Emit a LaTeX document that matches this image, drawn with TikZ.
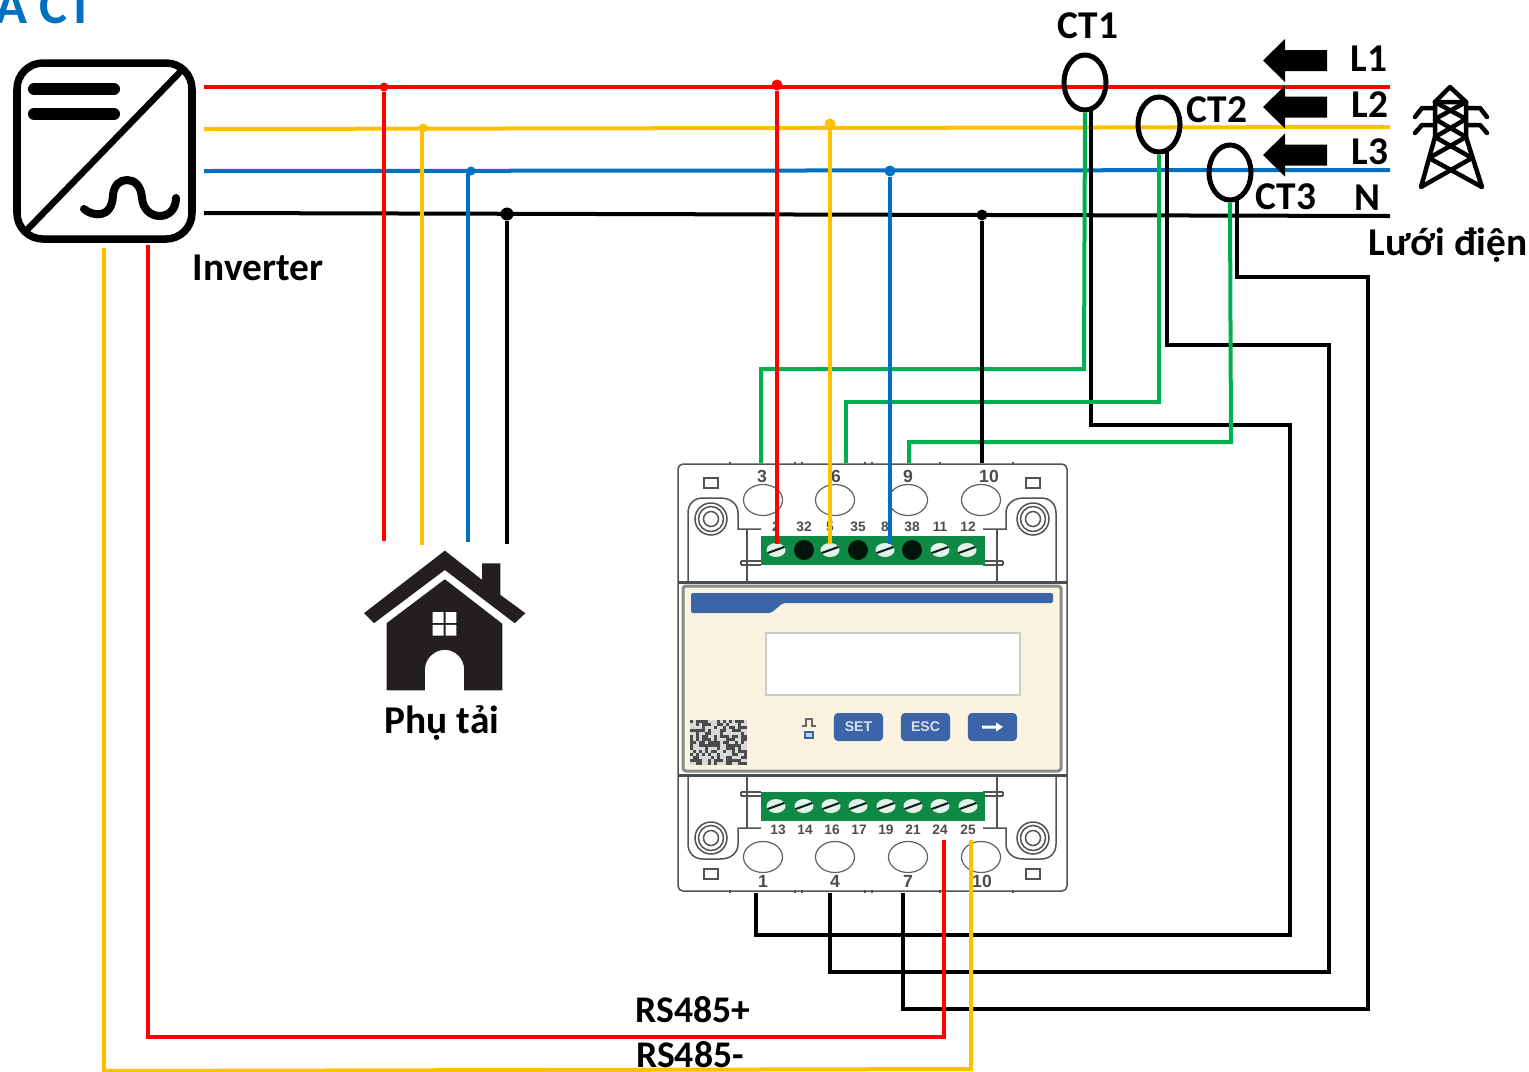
\documentclass[tikz,border=0pt]{standalone}
\usepackage{fontspec}
\setmainfont{Carlito}
\newfontfamily\meterfont{Liberation Sans}
\usetikzlibrary{shapes.geometric}
\definecolor{phR}{HTML}{FF0000}
\definecolor{phY}{HTML}{FFC000}
\definecolor{phB}{HTML}{0070C0}
\definecolor{ctG}{HTML}{00B050}
\definecolor{termG}{HTML}{0F8A45}
\definecolor{btnB}{HTML}{3B65A8}
\definecolor{panelC}{HTML}{FBF3E0}
\definecolor{frameG}{HTML}{8A8A8A}
\definecolor{houseK}{HTML}{231F20}
\tikzset{
  label/.style={font=\bfseries\fontsize{11.2}{12}\selectfont,inner sep=0pt},
  rslabel/.style={font=\bfseries\fontsize{10.7}{12}\selectfont,inner sep=0pt},
  wire/.style={line width=.04cm,line join=miter},
  ctring/.style={draw,ellipse,line width=.05cm,minimum width=.42cm,minimum height=.55cm,inner sep=0pt},
  dot/.style={circle,inner sep=0pt,minimum size=.09cm},
  hole/.style={draw=frameG!70!black,line width=.012cm,ellipse,fill=white,minimum width=.39cm,minimum height=.31cm,inner sep=0pt},
  bignum/.style={font=\meterfont\bfseries\fontsize{5}{5}\selectfont,text=black!70,inner sep=0pt},
  tinynum/.style={font=\meterfont\bfseries\fontsize{3.9}{4}\selectfont,text=black!70,inner sep=0pt},
  btn/.style={fill=btnB,rounded corners=.04cm,minimum width=.49cm,minimum height=.28cm,inner sep=0pt,text=white!80!btnB,font=\meterfont\bfseries\fontsize{4}{4}\selectfont},
  thin frame/.style={draw=frameG!60!black,line width=.015cm},
  tower/.style={line width=.045cm,line cap=round,line join=round}
}
% one half of the meter body, top half as drawn
\newcommand{\meterhalf}{%
  \foreach \sx/\dx in {1/0,-1/1744}{
    \begin{scope}[shift={(\dx,0)},xscale=\sx]
      \draw[thin frame] (711-7,478) rectangle (711+7,488);
      \draw[thin frame] (711,519) circle (16);
      \draw[thin frame] (711,519) circle (12.5);
      \draw[thin frame] (711,519) circle (7.5);
      \draw[thin frame] (688,582) -- (688,513) .. controls (688,503) and (695,498) .. (703,498) -- (720,498)
        .. controls (732,498) and (738,505) .. (738,513) -- (738,529) -- (761,529);
      \draw[thin frame] (747,529) -- (747,582);
      \draw[thin frame] (741,561) -- (761,561) (741,565) -- (761,565) (741,561) -- (741,565);
    \end{scope}
  }
  \fill[termG] (761,536) rectangle (985,565);
}
\newcommand{\screwmark}[2]{%
  \fill[white!88!termG] (#1,#2) ellipse (9.5 and 7);
  \draw[black!75!termG,line width=.02cm,rotate around={20:(#1,#2)}] (#1-9,#2) -- (#1+9,#2);
}
\begin{document}
\begin{tikzpicture}[x=.01cm,y=-.01cm]
\useasboundingbox (0,0) rectangle (1529,1072);

% meter
\draw[thin frame,fill=white,rounded corners=.05cm] (678,464) rectangle (1067,891);
\foreach \tx in {730,795,802,865,872,940,1013}{
  \draw[thin frame] (\tx,462) -- (\tx,465);
  \draw[thin frame] (\tx,890) -- (\tx,893);
}
\meterhalf
\begin{scope}[shift={(0,1357)},yscale=-1]
  \meterhalf
\end{scope}
\draw[black!70,line width=.03cm] (678,582) -- (1067,582) (678,775) -- (1067,775);
\draw[frameG,line width=.03cm,fill=panelC,rounded corners=.03cm] (683,586) rectangle (1061,771);
\fill[btnB,rounded corners=.02cm] (691,593) -- (1053,593) -- (1053,603) -- (783,603) -- (771,613) -- (691,613) -- cycle;
\draw[black!20,line width=.02cm,fill=white] (766,633) rectangle (1020,695);
\foreach \hx in {763,835,908,981}{
  \node[hole] at (\hx,500) {};
  \node[hole] at (\hx,857) {};
}
\node[bignum] (t3) at (762,476) {3};
\node[bignum] (t6) at (836,476) {6};
\node[bignum] (t9) at (908,476) {9};
\node[bignum] (t10) at (989,476) {10};
\node[bignum] (b1) at (763,881) {1};
\node[bignum] (b4) at (835,881) {4};
\node[bignum] (b7) at (908,881) {7};
\node[bignum] (b10) at (982,881) {10};
\foreach \tx/\tt in {776/2,804/32,830/5,858/35,885/8,912/38,940/11,968/12}{
  \node[tinynum] at (\tx,527) {\tt};
}
\foreach \tx/\tt in {778/13,805/14,832/16,859/17,886/19,913/21,940/24,968/25}{
  \node[tinynum] at (\tx,830) {\tt};
}
\foreach \tx in {776,830,885,940,967}{\screwmark{\tx}{550}}
\foreach \tx in {804,858,912}{\fill[black!85!termG] (\tx,550) circle (10);}
\foreach \tx in {776,804,831,858,886,913,940,968}{\screwmark{\tx}{806}}
\node[btn] (set) at (858.5,727) {SET};
\node[btn] (esc) at (925.5,727) {ESC};
\node[btn] (next) at (992.5,727) {};
\fill[white] (982,725.5) -- (996,725.5) -- (996,722.5) -- (1003,727) -- (996,731.5) -- (996,728.5) -- (982,728.5) -- cycle;
\draw[black!60,line width=.012cm] (802,726) -- (806,726) -- (806,719) -- (812,719) -- (812,726) -- (816,726);
\draw[btnB,line width=.02cm,fill=white!70!btnB] (805,732) rectangle (813,738);
% qr
\pgfmathsetseed{7}
\foreach \qi in {0,...,18}{
  \foreach \qj in {0,...,14}{
    \pgfmathparse{rnd}
    \ifdim \pgfmathresult pt>.45pt
      \fill[black!70] (690+\qi*3,720+\qj*3) rectangle ++(3,3);
    \else
      \fill[black!15] (690+\qi*3,720+\qj*3) rectangle ++(3,3);
    \fi
  }
}

% inverter
\draw[line width=.075cm,rounded corners=.26cm] (17,63) rectangle (192,239) ;
\draw[line width=.065cm] (182,70) -- (24,233);
\draw[line width=.12cm,line cap=round] (34,89) -- (114,89) (34,114) -- (114,114);
\draw[line width=.08cm,line cap=round] (84,209) .. controls (92,216) and (112,220) .. (113,195)
  .. controls (114,185) and (120,180) .. (127,180) .. controls (134,180) and (141,185) .. (142,198)
  .. controls (144,222) and (176,222) .. (176,198);
\node[label] (inv) at (258,268) {Inverter};

% house
\begin{scope}[shift={(350,530)},x=.00333cm,y=-.00333cm]
  \fill[houseK] (285,62) -- (397,150) -- (397,100) -- (452,100) -- (452,195) -- (527,250) -- (495,280) -- (285,120) -- (72,280) -- (42,250) -- cycle;
  \fill[houseK] (285,148) -- (458,282) -- (458,482) -- (343,482) -- (343,420)
    .. controls (343,385) and (315,360) .. (285,360) .. controls (255,360) and (225,385) .. (225,420)
    -- (225,482) -- (110,482) -- (110,280) -- cycle;
  \fill[white] (248,247) rectangle (281,279) (287,247) rectangle (320,279) (248,285) rectangle (281,317) (287,285) rectangle (320,317);
\end{scope}
\node[label] (load) at (442,723) {Phụ tải};

% tower
\draw[tower] (1435,102) -- (1450,87) -- (1466,102) -- (1435,102);
\draw[tower] (1435,102) -- (1435,137) -- (1421,187) -- (1472,158) -- (1435,137);
\draw[tower] (1466,102) -- (1466,137) -- (1482,187) -- (1429,158) -- (1466,137);
\draw[tower] (1435,102) -- (1466,119) -- (1435,137);
\draw[tower] (1466,102) -- (1435,119) -- (1466,137);
\draw[tower] (1415,117) -- (1422,108) -- (1435,108) (1466,108) -- (1480,108) -- (1487,117);
\draw[tower] (1415,133) -- (1422,125) -- (1435,125) (1466,125) -- (1480,125) -- (1487,133);
\node[label] (grid) at (1448,245) {Lưới điện};

% phase lines
\coordinate (r0) at (204,87);
\coordinate (r1) at (1390,87);
\coordinate (y0) at (204,129);
\coordinate (y1) at (1390,127);
\coordinate (b0) at (204,171);
\coordinate (b1) at (1390,170);
\coordinate (n0) at (204,213);
\coordinate (n1) at (1390,216);
\draw[wire,phR] (r0) -- (r1);
\draw[wire,phY] (y0) -- (y1);
\draw[wire,phB] (b0) -- (b1);
\draw[wire,black] (n0) -- (n1);

% load drops
\node[dot,fill=phR] (jr1) at (384,87) {};
\node[dot,fill=phY] (jy1) at (423,128) {};
\node[dot,fill=phB] (jb1) at (471,171) {};
\node[dot,fill=black,minimum size=.13cm] (jn1) at (507,214) {};
\coordinate (ly0) at (422,128);
\coordinate (lb0) at (468,171);
\coordinate (lr) at (384,541);
\coordinate (ly) at (422,545);
\coordinate (lb) at (468,542);
\coordinate (ln) at (507,544);
\draw[wire,phR] (jr1) -- (lr);
\draw[wire,phY] (ly0) -- (ly);
\draw[wire,phB] (lb0) -- (lb);
\draw[wire,black] (jn1) -- (ln);

% ct secondaries
\node[ctring] (ct1) at (1085,82.5) {};
\node[ctring] (ct2) at (1159,124.5) {};
\node[ctring] (ct3) at (1230,172.5) {};
\coordinate (k1a) at (1091,110);
\coordinate (k1b) at (1091,425);
\coordinate (k1c) at (1290,425);
\coordinate (k1d) at (1290,935);
\coordinate (k1e) at (756,935);
\coordinate (k1f) at (756,893);
\coordinate (k2a) at (1167,152);
\coordinate (k2b) at (1167,345);
\coordinate (k2c) at (1329,345);
\coordinate (k2d) at (1329,972);
\coordinate (k2e) at (830,972);
\coordinate (k2f) at (830,893);
\coordinate (k3a) at (1237,200);
\coordinate (k3b) at (1237,277);
\coordinate (k3c) at (1368,277);
\coordinate (k3d) at (1368,1009);
\coordinate (k3e) at (903,1009);
\coordinate (k3f) at (903,893);
\draw[wire] (k1a) -- (k1b) -- (k1c) -- (k1d) -- (k1e) -- (k1f);
\draw[wire] (k2a) -- (k2b) -- (k2c) -- (k2d) -- (k2e) -- (k2f);
\draw[wire] (k3a) -- (k3b) -- (k3c) -- (k3d) -- (k3e) -- (k3f);
\coordinate (g1a) at (1084,369);
\coordinate (g1b) at (761,369);
\coordinate (g1c) at (761,463);
\coordinate (g2a) at (1159,402);
\coordinate (g2b) at (846,402);
\coordinate (g2c) at (846,463);
\coordinate (g3a) at (1231,442);
\coordinate (g3b) at (909,442);
\coordinate (g3c) at (909,463);
\draw[wire,ctG] (ct1.south) -- (g1a) -- (g1b) -- (g1c);
\draw[wire,ctG] (ct2.south) -- (g2a) -- (g2b) -- (g2c);
\draw[wire,ctG] (ct3.south) -- (g3a) -- (g3b) -- (g3c);

% meter drops
\node[dot,fill=phR,minimum size=.11cm] (jr2) at (777,85) {};
\node[dot,fill=phY,minimum size=.11cm] (jy2) at (830,124) {};
\node[dot,fill=phB,minimum size=.11cm] (jb2) at (890,171) {};
\node[dot,fill=black,minimum size=.11cm] (jn2) at (982,215) {};
\coordinate (mr) at (777,544);
\coordinate (my) at (830,544);
\coordinate (mb) at (890,544);
\coordinate (mn) at (982,463);
\draw[wire,phR] (jr2) -- (mr);
\draw[wire,phY] (jy2) -- (my);
\draw[wire,phB] (jb2) -- (mb);
\draw[wire,black] (jn2) -- (mn);

% rs485
\coordinate (p0) at (148,245);
\coordinate (p1) at (148,1037);
\coordinate (p2) at (944,1037);
\coordinate (p3) at (944,840);
\coordinate (q0) at (104,248);
\coordinate (q1) at (104,1071);
\coordinate (q2) at (971,1069);
\coordinate (q3) at (971,840);
\draw[wire,phY] (q0) -- (q1) -- (q2) -- (q3);
\draw[wire,phR] (p0) -- (p1) -- (p2) -- (p3);
\node[rslabel] (rsp) at (693,1010) {RS485+};
\node[rslabel] (rsm) at (690,1055) {RS485-};

% grid arrows
\foreach \ay in {60.5,107,155}{
  \fill[black] (1263,\ay) -- (1285,\ay-21.5) -- (1285,\ay-10.5) -- (1327,\ay-10.5) -- (1327,\ay+10.5) -- (1285,\ay+10.5) -- (1285,\ay+21.5) -- cycle;
}
\node[label] (l1) at (1369,59) {L1};
\node[label] (l2) at (1370,105) {L2};
\node[label] (l3) at (1370,152) {L3};
\node[label] (lbln) at (1367,198) {N};
\node[label] (c1) at (1088,26) {CT1};
\node[label] (c2) at (1217,110) {CT2};
\node[label] (c3) at (1286,197) {CT3};

\node[label,anchor=base west,text=phB,font=\bfseries\fontsize{15}{16}\selectfont] (title) at (-5,23) {A CT};
\end{tikzpicture}
\end{document}
